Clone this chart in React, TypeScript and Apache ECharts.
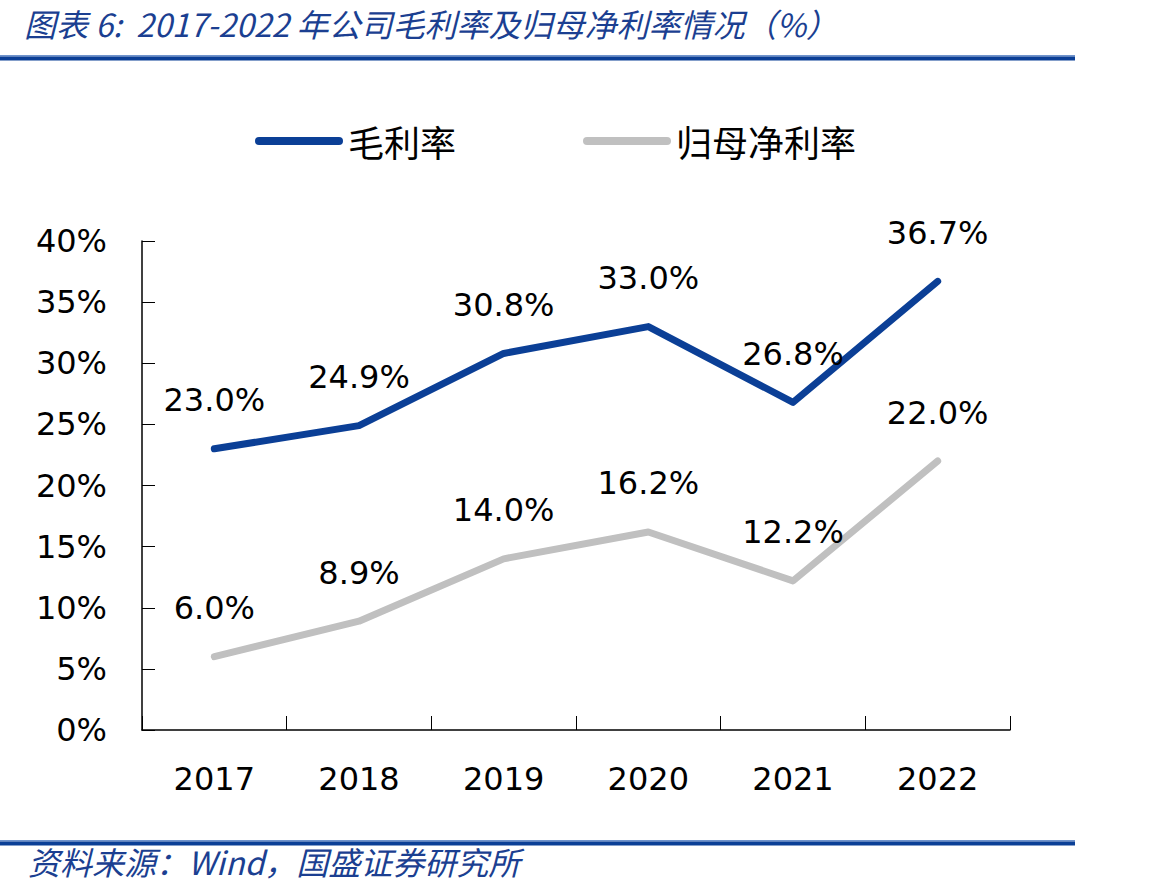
import React, { useEffect, useRef } from "react";
import * as echarts from "echarts";

const years = ["2017", "2018", "2019", "2020", "2021", "2022"];
const grossMargin = [23.0, 24.9, 30.8, 33.0, 26.8, 36.7];
const netMargin = [6.0, 8.9, 14.0, 16.2, 12.2, 22.0];
const seriesNames = ["毛利率", "归母净利率"];
const titleText = "图表 6:  2017-2022 年公司毛利率及归母净利率情况（%）";
const sourceText = "资料来源：Wind，国盛证券研究所";

const BLUE = "#0B3F96";
const GRAY = "#C0C0C0";
const TEXT_FONT = "'DejaVu Sans', Verdana, sans-serif";
const CJK_FONT = "'Noto Sans CJK SC', sans-serif";
const CAPSULE = "path://M4,0 L84,0 A4,4 0 0 1 84,8 L4,8 A4,4 0 0 1 4,0 Z";

export default function App() {
  const ref = useRef<HTMLDivElement>(null);

  useEffect(() => {
    if (!ref.current) return;
    const chart = echarts.init(ref.current, undefined, { renderer: "svg" });
    const labelStyle = {
      show: true,
      position: "top" as const,
      distance: 32,
      fontSize: 32,
      color: "#000",
      fontFamily: TEXT_FONT,
      formatter: (p: any) => `${Number(p.value).toFixed(1)}%`,
    };
    chart.setOption({
      animation: false,
      backgroundColor: "#fff",
      graphic: [
        {
          type: "text",
          left: 24,
          top: 7,
          style: {
            text: titleText,
            fontSize: 32,
            fontStyle: "italic",
            fontFamily: CJK_FONT,
            fill: "#1B3F91",
          },
        },
        { type: "rect", shape: { x: 0, y: 55, width: 1075, height: 1.5 }, style: { fill: "#6F93CC" } },
        { type: "rect", shape: { x: 0, y: 56.5, width: 1075, height: 4 }, style: { fill: BLUE } },
        { type: "rect", shape: { x: 0, y: 840, width: 1075, height: 1.5 }, style: { fill: "#6F93CC" } },
        { type: "rect", shape: { x: 0, y: 841.5, width: 1075, height: 4 }, style: { fill: BLUE } },
        {
          type: "text",
          left: 28,
          top: 845,
          style: {
            text: sourceText,
            fontSize: 32,
            fontStyle: "italic",
            fontFamily: CJK_FONT,
            fill: "#1B3F91",
          },
        },
      ],
      legend: {
        left: 250,
        top: 118,
        itemWidth: 88,
        itemHeight: 8,
        itemGap: 127,
        textStyle: { fontSize: 36, color: "#000", fontFamily: CJK_FONT },
        data: [
          { name: seriesNames[0], icon: CAPSULE, itemStyle: { color: BLUE } },
          { name: seriesNames[1], icon: CAPSULE, itemStyle: { color: GRAY } },
        ],
      },
      grid: { left: 142, right: 146, top: 241, bottom: 165, containLabel: false },
      xAxis: {
        type: "category",
        data: years,
        boundaryGap: true,
        axisLine: { lineStyle: { color: "#000", width: 1.5 } },
        axisTick: { show: true, inside: true, length: 14, lineStyle: { color: "#000", width: 1 } },
        axisLabel: { fontSize: 32, color: "#000", fontFamily: TEXT_FONT, margin: 33 },
      },
      yAxis: {
        type: "value",
        min: 0,
        max: 40,
        interval: 5,
        splitLine: { show: false },
        axisLine: { show: true, lineStyle: { color: "#000", width: 1.5 } },
        axisTick: { show: true, inside: true, length: 13, lineStyle: { color: "#000", width: 1 } },
        axisLabel: {
          fontSize: 32,
          color: "#000",
          fontFamily: TEXT_FONT,
          margin: 35,
          formatter: "{value}%",
        },
      },
      series: [
        {
          name: seriesNames[0],
          type: "line",
          data: grossMargin,
          symbol: "circle",
          symbolSize: 1,
          showSymbol: true,
          lineStyle: { color: BLUE, width: 7, cap: "round", join: "round" },
          itemStyle: { color: BLUE },
          label: labelStyle,
        },
        {
          name: seriesNames[1],
          type: "line",
          data: netMargin,
          symbol: "circle",
          symbolSize: 1,
          showSymbol: true,
          lineStyle: { color: GRAY, width: 7, cap: "round", join: "round" },
          itemStyle: { color: GRAY },
          label: labelStyle,
        },
      ],
    });
    return () => chart.dispose();
  }, []);

  return (
    <div
      ref={ref}
      style={{ position: "fixed", left: 0, top: 0, width: 1156, height: 895 }}
    />
  );
}
